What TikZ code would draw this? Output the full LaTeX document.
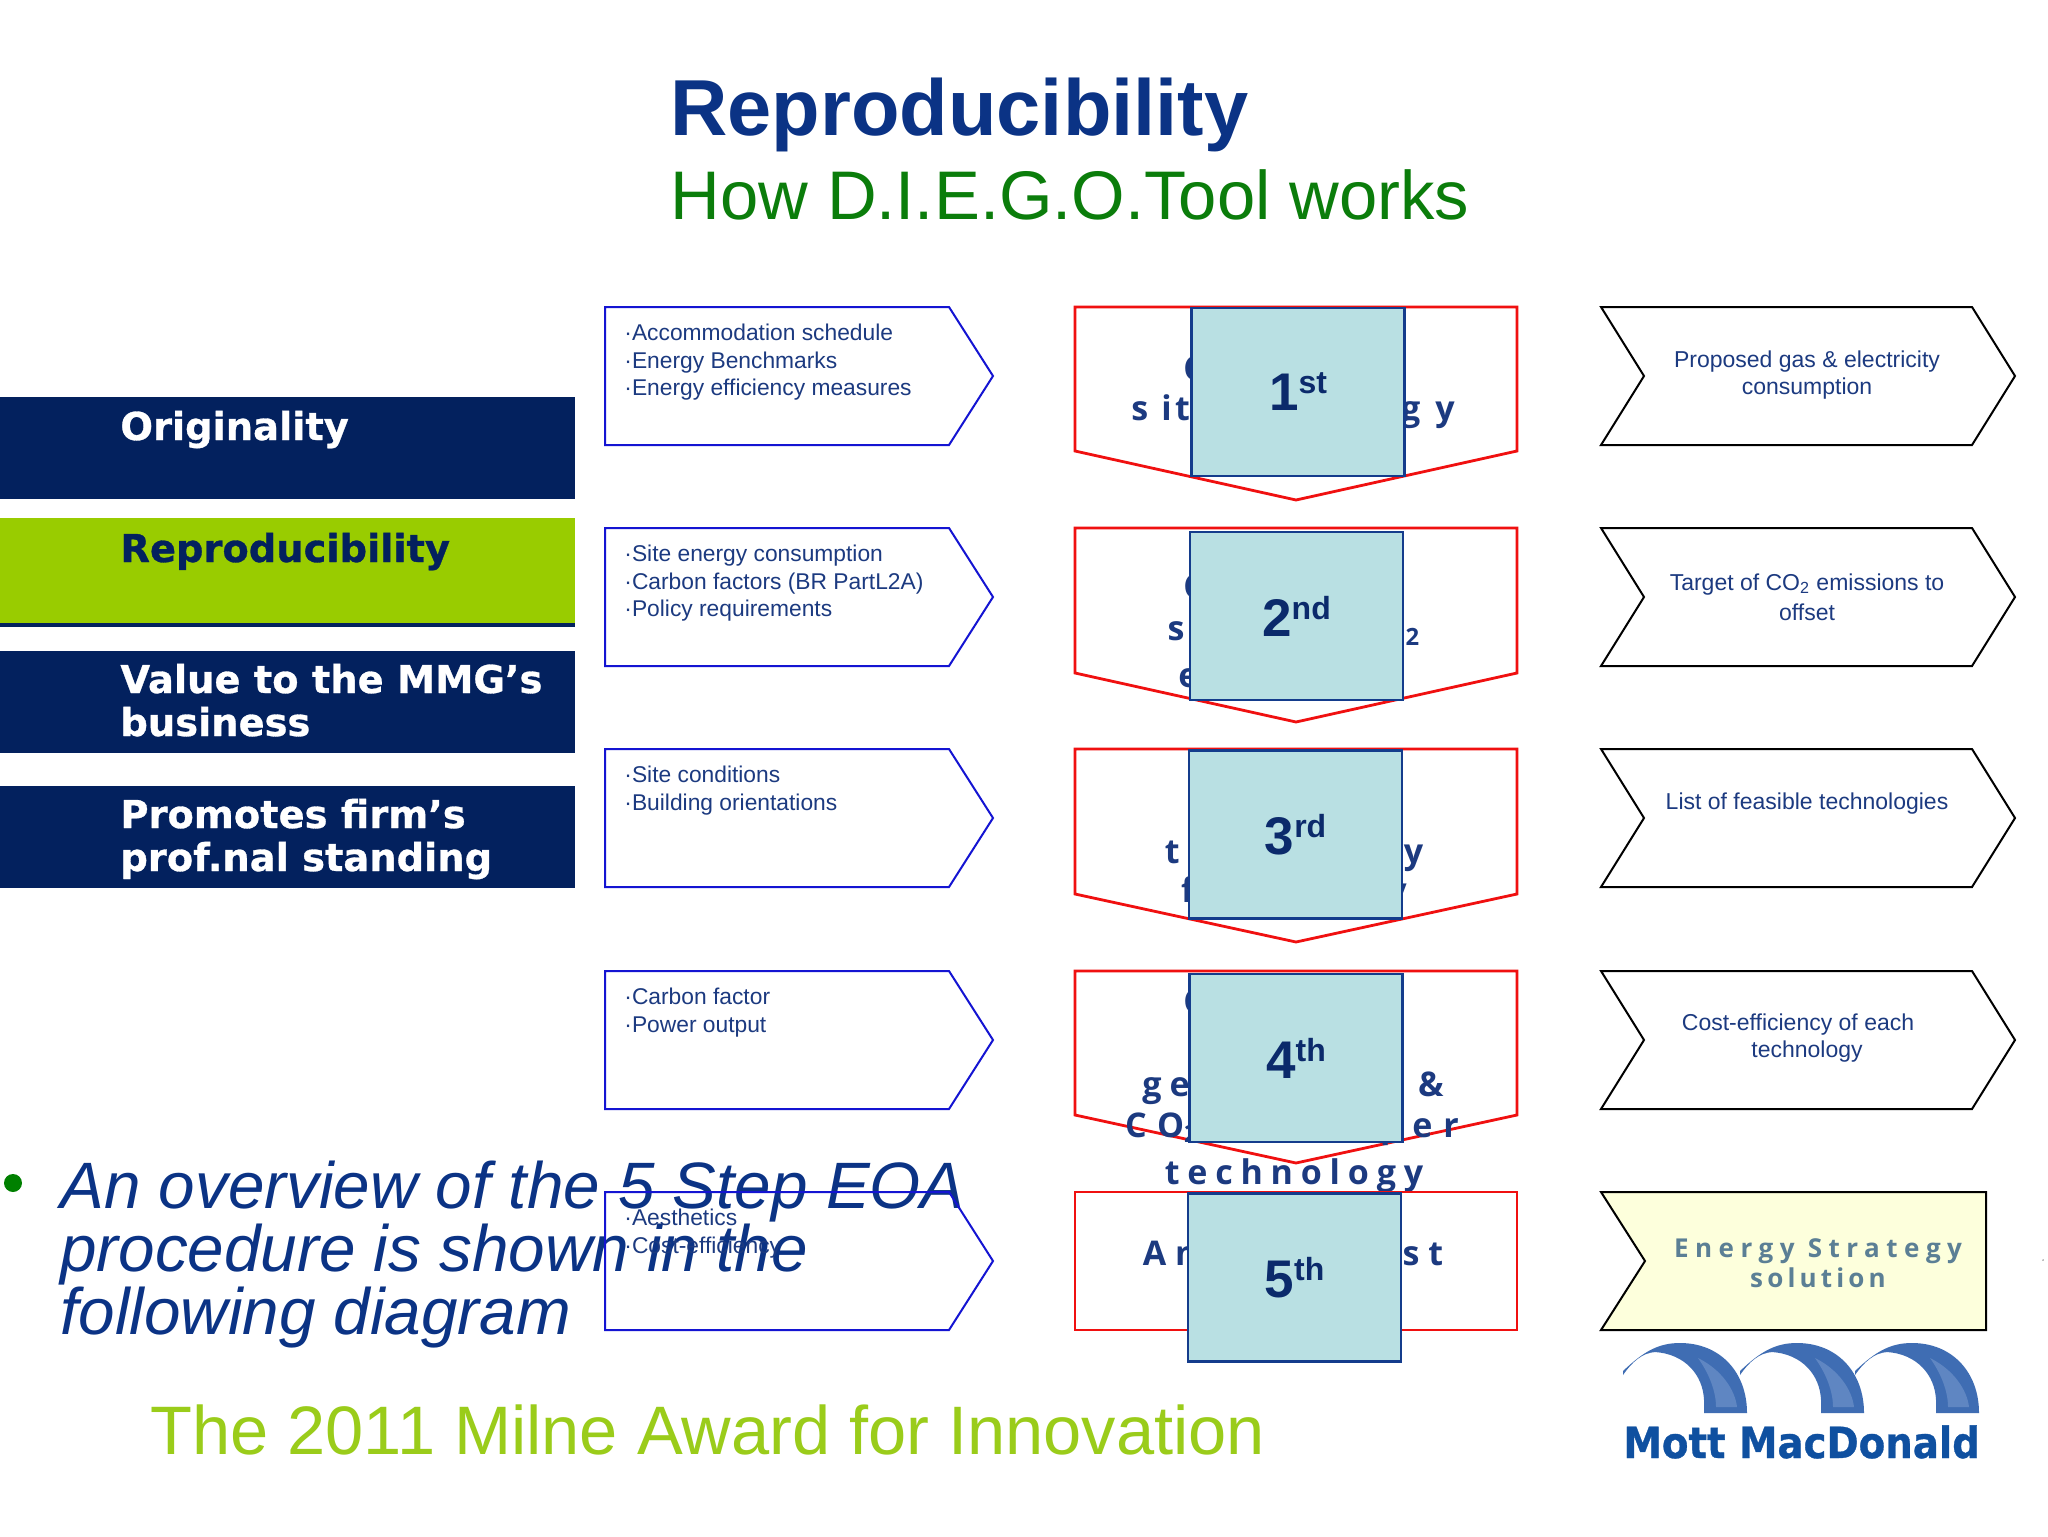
\documentclass[tikz,border=0pt]{standalone}
\usepackage{fontspec}
\setmainfont{Liberation Sans}
\newfontfamily\spacedfont{Open Sans}
\newfontfamily\barfont[BoldFeatures={FakeBold=0.8}]{DejaVu Sans}
\definecolor{navybar}{HTML}{03215E}
\definecolor{limebar}{HTML}{99CC00}
\definecolor{titleblue}{HTML}{0B3385}
\definecolor{titlegreen}{HTML}{0B7D0B}
\definecolor{inblue}{HTML}{1414D2}
\definecolor{stepred}{HTML}{F01010}
\definecolor{stepfill}{HTML}{B9E0E3}
\definecolor{stepedge}{HTML}{143C8C}
\definecolor{stepnum}{HTML}{0B2A6B}
\definecolor{textblue}{HTML}{1C3A80}
\definecolor{solfill}{HTML}{FDFFDC}
\definecolor{soltext}{HTML}{5B7F95}
\definecolor{logoblue}{HTML}{3F6DB3}
\definecolor{logolight}{HTML}{5F86C2}
\definecolor{logotext}{HTML}{0F50A0}
\definecolor{awardgreen}{HTML}{9ACC1A}
\tikzset{
  barlabel/.style={anchor=base west,inner sep=0pt,align=left,text=white,font=\barfont\bfseries\fontsize{19.2}{21.5}\selectfont},
  overtext/.style={anchor=base west,inner sep=0pt,text=titleblue,font=\itshape\fontsize{32.8}{32.8}\selectfont},
  inarrow/.style={draw=inblue,line width=1pt},
  intext/.style={anchor=north west,inner sep=0pt,align=left,text=textblue,font=\fontsize{11.4}{13.7}\selectfont},
  outarrow/.style={draw=black,line width=1pt},
  outtext/.style={inner sep=0pt,align=center,text=textblue,font=\fontsize{11.5}{13.7}\selectfont},
  redarrow/.style={draw=stepred,fill=white,line width=1.4pt},
  steptext/.style={anchor=base,inner sep=0pt,text=textblue,font=\spacedfont\bfseries\fontsize{17}{17}\selectfont\addfontfeature{LetterSpace=#1}},
  steptext/.default=30,
  stepbox/.style={draw=stepedge,fill=stepfill,line width=1.2pt,minimum width=106.5pt,minimum height=84pt,inner sep=0pt,text=stepnum,font=\bfseries\fontsize{26.5}{26.5}\selectfont},
}
\newcommand{\ordsup}[1]{\raisebox{8.5pt}{\fontsize{16}{16}\selectfont #1}}
\begin{document}
\begin{tikzpicture}[x=0.5pt,y=-0.5pt]
\useasboundingbox (0,0) rectangle (2048,1536);
\fill[white] (0,0) rectangle (2048,1536);

\node[anchor=base west,inner sep=0pt,text=titleblue,font=\bfseries\fontsize{39.7}{39.7}\selectfont] (title) at (670,135) {Reproducibility};
\node[anchor=base west,inner sep=0pt,text=titlegreen,font=\fontsize{34.4}{34.4}\selectfont] (subtitle) at (670,219) {How D.I.E.G.O.Tool works};

\fill[navybar] (0,397) rectangle (575,499);
\fill[navybar] (0,518) rectangle (575,627);
\fill[limebar] (0,518) rectangle (575,623);
\fill[navybar] (0,651) rectangle (575,753);
\fill[navybar] (0,786) rectangle (575,888);
\node[barlabel] (barA) at (120,440) {Originality};
\node[barlabel,text=navybar] (barB) at (120,562) {Reproducibility};
\node[barlabel] (barC) at (120,693) {Value to the MMG’s};
\node[barlabel] (barCb) at (120,736) {business};
\node[barlabel] (barD) at (120,828) {Promotes firm’s};
\node[barlabel] (barDb) at (120,871) {prof.nal standing};

\fill[green!50!black] (13,1183) circle (9);
\node[overtext] (overA) at (60,1208) {An overview of the 5 Step EOA};
\node[overtext] (overB) at (60,1271) {procedure is shown in the};
\node[overtext] (overC) at (60,1334) {following diagram};

\foreach \y/\txt in {
  307/{·Accommodation schedule\\·Energy Benchmarks\\·Energy efficiency measures},
  528/{·Site energy consumption\\·Carbon factors (BR PartL2A)\\·Policy requirements},
  749/{·Site conditions\\·Building orientations},
  971/{·Carbon factor\\·Power output},
  1192/{·Aesthetics\\·Cost-efficiency}}{
  \draw[inarrow] (605,\y) -- ++(344,0) -- ++(44,69) -- ++(-44,69) -- ++(-344,0) -- cycle;
  \node[intext] at (624,\y+17) {\txt};
}

\foreach \y/\sh/\tip in {307/144/193,528/145/194,749/145/193,971/144/192}{
  \draw[redarrow] (1075,\y) -- (1517,\y) -- (1517,\y+\sh) -- (1296,\y+\tip) -- (1075,\y+\sh) -- cycle;
}
\node[steptext=20,anchor=base west] (lineAa) at (1183,380) {Calculate};
\node[steptext=0,anchor=base west] (lineAb) at (1131,420) {s};
\node[steptext=10,anchor=base west] (lineAc) at (1161,420) {ite};
\node[steptext=44,anchor=base east] (lineAd) at (1455,420) {energy};
\node[steptext=20,anchor=base west] (lineBa) at (1183,598) {Calculate};
\node[steptext=70] (lineBb) at (1294,640) {site CO\textsubscript{2}};
\node[steptext=20,anchor=base west] (lineBc) at (1178,687) {emissions};
\node[steptext=23] (lineCa) at (1294,863) {technology};
\node[steptext=17] (lineCb) at (1294,902) {feasibility};
\node[steptext=20,anchor=base west] (lineDa) at (1183,1013) {Calculate};
\node[steptext=24] (lineDb) at (1293,1096) {generation \&};
\node[steptext=32] (lineDc) at (1292,1137) {CO\textsubscript{2} saved per};
\node[steptext=23] (lineDd) at (1294,1184) {technology};
\draw[redarrow] (1075,1192) rectangle (1517,1330);
\node[steptext=26] (lineEa) at (1293,1265) {Analyse cost};

\node[stepbox] (stepA) at (1298,392) {1\ordsup{st}};
\node[stepbox] (stepB) at (1296.5,616) {2\ordsup{nd}};
\node[stepbox] (stepC) at (1295.5,834.5) {3\ordsup{rd}};
\node[stepbox] (stepD) at (1296,1058) {4\ordsup{th}};
\node[stepbox] (stepE) at (1294.5,1277.5) {5\ordsup{th}};

\foreach \y in {307,528,749,971}{
  \draw[outarrow] (1601,\y) -- ++(371,0) -- ++(43,69) -- ++(-43,69) -- ++(-371,0) -- ++(43,-69) -- cycle;
}
\node[outtext] (outA) at (1807,375) {Proposed gas \& electricity\\consumption};
\node[outtext] (outB) at (1807,597) {Target of CO\textsubscript{2} emissions to\\[1.3pt]offset};
\node[outtext] (outC) at (1807,804) {List of feasible technologies};
\node[outtext] (outD) at (1807,1038) {Cost-efficiency of each\hspace*{9pt}\\technology};
\draw[outarrow,fill=solfill] (1601,1192) -- (1986,1192) -- (1986,1330) -- (1601,1330) -- (1645,1261) -- cycle;
\node[inner sep=0pt,align=center,text=soltext,font=\spacedfont\bfseries\fontsize{13}{15}\selectfont] (solution) at (1818,1263) {\addfontfeature{LetterSpace=25}Energy Strategy\\\addfontfeature{LetterSpace=16}solution};
\fill[gray] (2043,1260) circle (0.8);

\foreach \x in {232,117,0}{
  \fill[logoblue,shift={(\x,0)}] (1623,1371) .. controls (1645,1350) and (1660,1343) .. (1680,1343) .. controls (1720,1343) and (1747,1372) .. (1747,1413) -- (1704,1413) -- (1704,1400) .. controls (1703,1375) and (1685,1354) .. (1655,1352) .. controls (1642,1353) and (1632,1362) .. (1623,1375) -- cycle;
  \fill[logolight,shift={(\x,0)}] (1716,1407) .. controls (1716,1390) and (1708,1372) .. (1698,1358) .. controls (1722,1370) and (1735,1390) .. (1737,1407) -- cycle;
}
\node[anchor=base west,inner sep=0pt,text=logotext,font=\barfont\bfseries\fontsize{21.5}{21.5}\selectfont] (logo) at (1623,1458) {\scalebox{0.9}[1]{Mott MacDonald}};

\node[anchor=base west,inner sep=0pt,text=awardgreen,font=\fontsize{34.3}{34.3}\selectfont] (award) at (150,1454) {The 2011 Milne Award for Innovation};
\end{tikzpicture}
\end{document}
